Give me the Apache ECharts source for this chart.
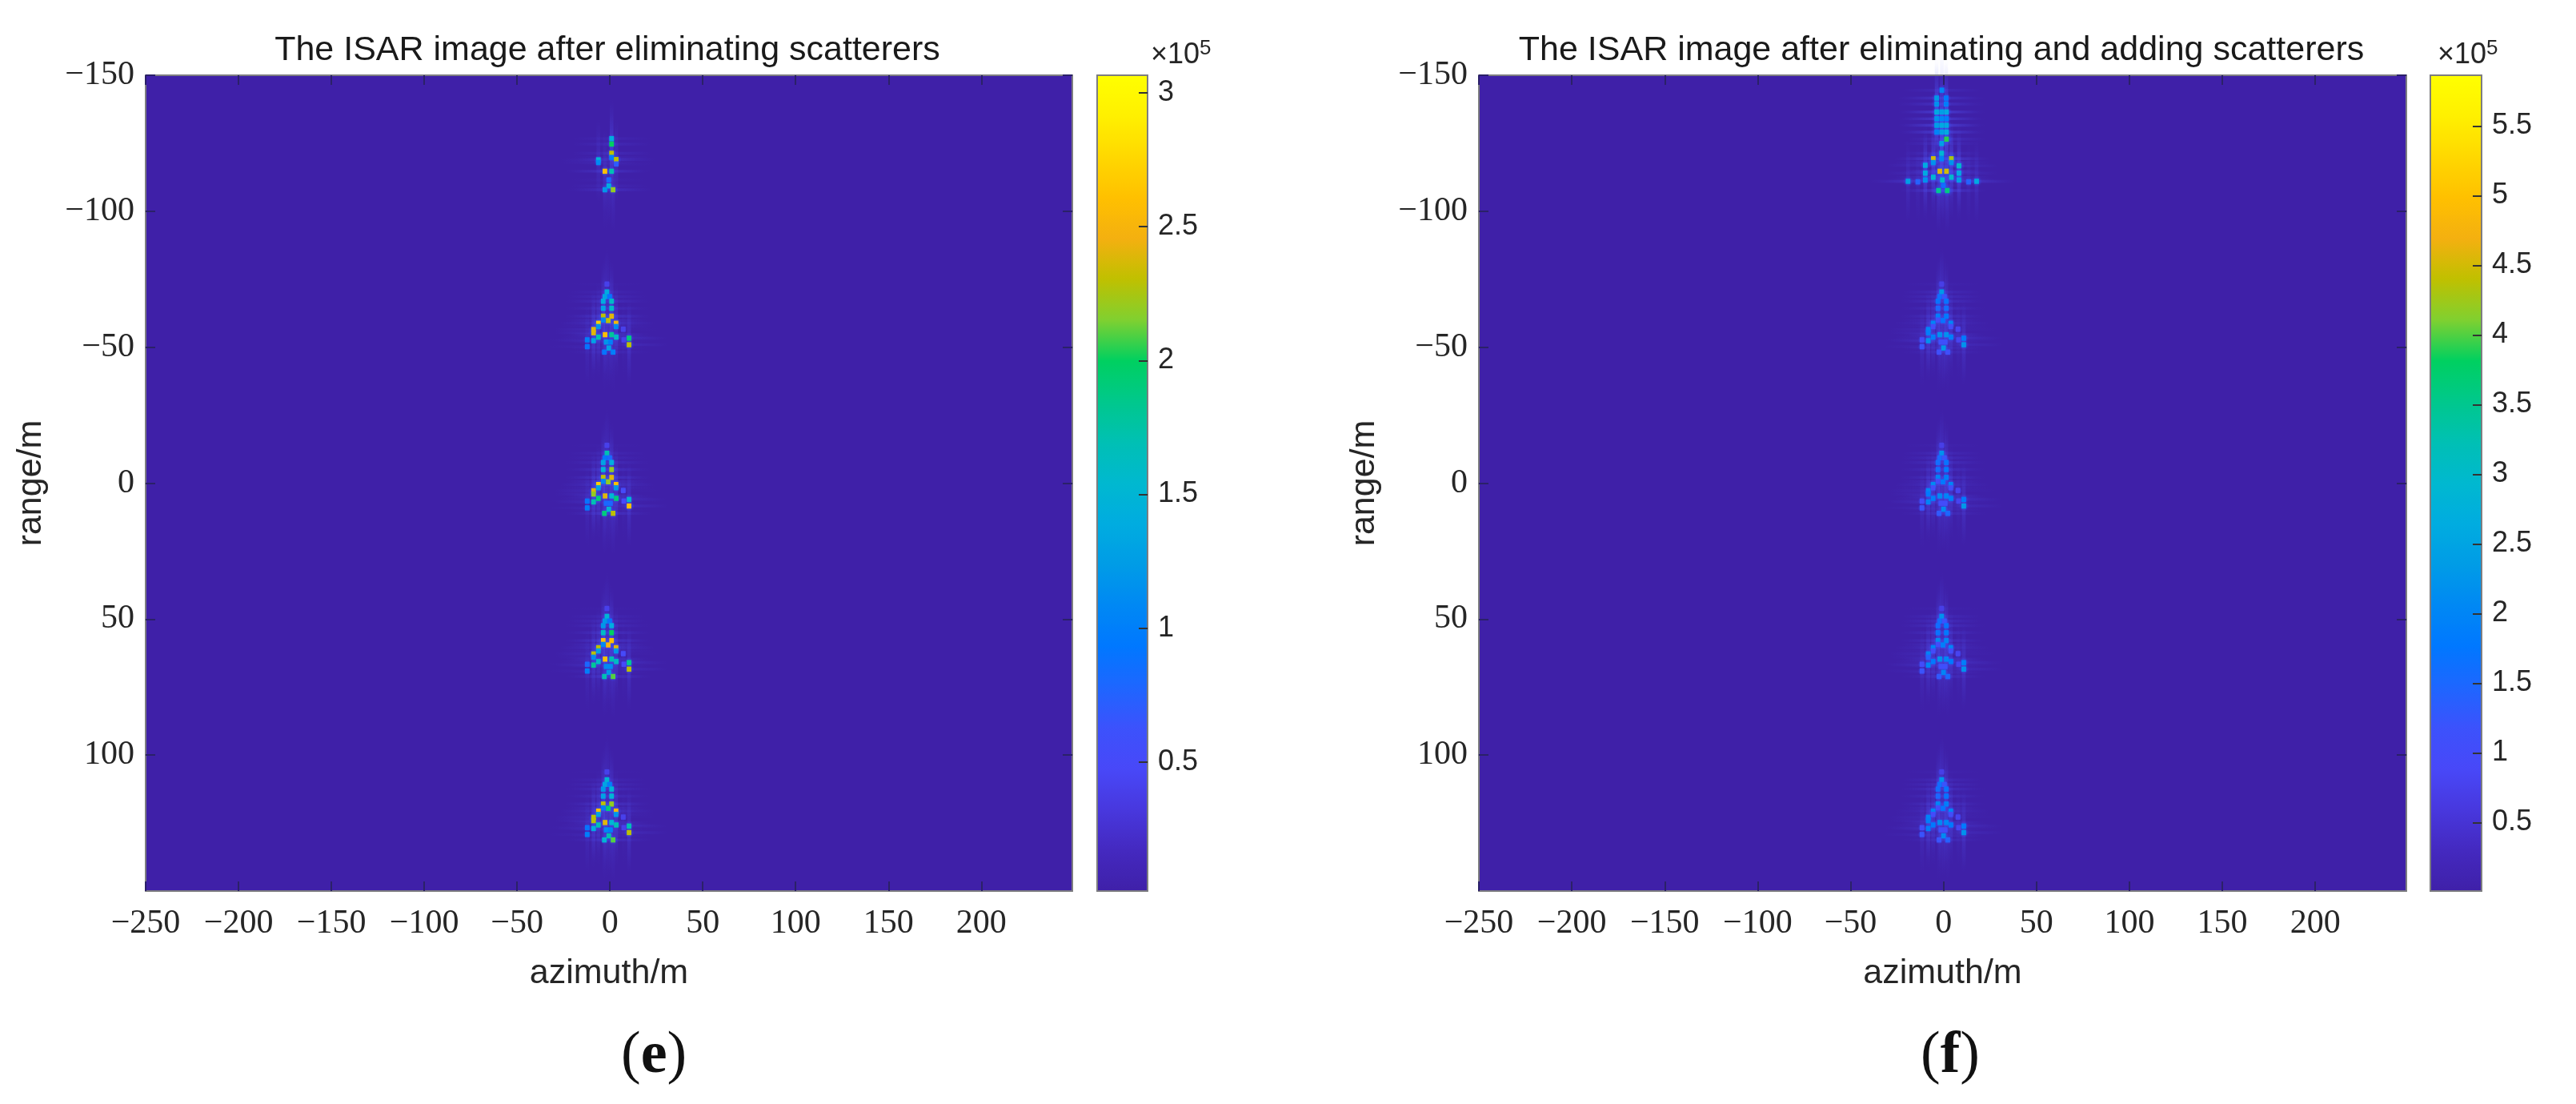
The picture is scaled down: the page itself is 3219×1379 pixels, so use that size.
<!DOCTYPE html>
<html>
<head>
<meta charset="utf-8">
<script src="https://cdn.jsdelivr.net/npm/echarts@6/dist/echarts.min.js"></script>
<style>
  html, body { margin: 0; background: #fff; }
  #chart { width: 3219px; height: 1379px; }
</style>
</head>
<body>
<div id="chart"></div>
<script>
// tick labels
const azimuthTicks = [-250, -200, -150, -100, -50, 0, 50, 100, 150, 200];
const rangeTicks = [-150, -100, -50, 0, 50, 100];
const cbarTicksE = [0.5, 1, 1.5, 2, 2.5, 3];
const cbarTicksF = [0.5, 1, 1.5, 2, 2.5, 3, 3.5, 4, 4.5, 5, 5.5];

// parula-like colormap, bottom to top
const colormap = ['#3f20a8', '#4429c0', '#4838de', '#4848f8', '#3c52fc', '#1e66ff', '#0078ff',
  '#0088f4', '#009ce6', '#00ace0', '#00b8d0', '#00c0b4', '#00c88c', '#00d060', '#80d030',
  '#c0c000', '#f4b010', '#ffc000', '#ffd800', '#fff000', '#ffff00'];

// scatterer layout of one aircraft, relative to its nose (metres)
const shapeAz = [-1.6, -2.7, -0.1, -3.6, 0.9, -3.6, 0.9, -3.6, 0.9, -3.6, -0.9, -6.2, 3.3, -6.2, 3.3, -8.8, -8.8,
  -2.6, 0.9, -6.2, 3.4, -8.8, 10.3, 10.3, -12.2, -12.2, -2.0, 0.3, -0.6, -3.0, 1.7, 7.5, 7.2, -1.6];
const shapeRange = [0, 1.7, 1.7, 3.4, 3.4, 6.0, 6.0, 8.9, 8.9, 10.3, 10.5, 11.5, 11.5, 12.7, 12.7, 13.8, 15.0,
  15.7, 15.7, 16.6, 16.6, 17.9, 17.0, 19.4, 17.6, 20.1, 18.4, 18.4, 20.6, 22.1, 22.1, 17.6, 13.7, -2.9];

// nose range of the four complete aircraft
const noseRanges = [-70.3, -11, 49, 109.1];

// amplitudes (x 1e5) per aircraft, panel (e)
const ampsE = [
  [1.4, 1.3, 0.9, 1.4, 1.6, 1.3, 1.6, 2.3, 2.4, 1.1, 2.3, 2.7, 2.5, 1.2, 1.1, 2.4, 2.4, 2.6, 1.8, 1.7, 1.6, 1.3, 1.9, 2.3, 1.0, 0.9, 1.2, 1.0, 1.3, 0.9, 1.0, 0.4, 0.4, 0.4],
  [1.7, 0.9, 0.8, 1.3, 1.4, 1.5, 2.2, 2.3, 2.4, 1.1, 2.2, 2.7, 2.6, 1.3, 1.2, 2.4, 2.2, 2.4, 1.5, 1.9, 1.9, 1.7, 1.5, 2.6, 0.9, 1.0, 0.8, 0.8, 1.5, 1.9, 2.3, 0.5, 0.5, 0.4],
  [1.5, 1.2, 0.9, 1.2, 1.4, 1.6, 2.0, 2.6, 2.6, 1.1, 2.5, 2.3, 2.4, 1.3, 1.2, 2.3, 1.1, 2.6, 1.7, 1.6, 1.6, 1.8, 1.8, 2.3, 0.8, 1.0, 1.1, 1.1, 1.2, 1.7, 2.1, 0.5, 0.5, 0.4],
  [1.5, 1.3, 1.0, 1.2, 1.5, 1.3, 1.5, 2.3, 2.2, 1.0, 1.9, 2.6, 2.5, 1.3, 1.2, 2.3, 2.3, 2.4, 1.5, 1.7, 1.7, 1.4, 1.7, 2.3, 0.9, 1.0, 1.1, 1.0, 1.7, 1.5, 2.1, 0.4, 0.4, 0.4]
];

// amplitudes (x 1e5) per aircraft, panel (f)
const ampsF = [
  [2.3, 1.6, 1.2, 1.7, 1.7, 1.5, 1.6, 1.9, 1.8, 1.0, 1.7, 2.0, 2.0, 1.0, 1.0, 2.0, 1.9, 2.2, 2.2, 1.9, 1.9, 2.2, 1.8, 2.2, 1.0, 1.2, 1.1, 1.1, 2.3, 1.1, 1.1, 0.8, 0.8, 0.7],
  [2.2, 1.5, 1.2, 1.6, 1.7, 1.6, 1.8, 2.0, 1.9, 1.0, 1.8, 2.1, 2.0, 1.0, 1.0, 2.0, 1.8, 2.1, 2.0, 1.9, 1.9, 2.0, 1.8, 2.3, 1.0, 1.2, 1.0, 1.0, 2.1, 1.3, 1.5, 0.8, 0.8, 0.7],
  [2.2, 1.6, 1.2, 1.6, 1.7, 1.7, 1.8, 2.1, 2.0, 1.0, 1.9, 2.0, 2.0, 1.0, 1.0, 2.0, 1.4, 2.2, 2.0, 1.8, 1.8, 2.0, 1.9, 2.2, 1.0, 1.2, 1.1, 1.1, 2.0, 1.3, 1.5, 0.8, 0.8, 0.7],
  [2.2, 1.6, 1.2, 1.6, 1.7, 1.5, 1.7, 2.0, 1.9, 1.0, 1.7, 2.0, 2.0, 1.0, 1.0, 2.0, 1.9, 2.1, 2.0, 1.8, 1.8, 1.9, 1.8, 2.2, 1.0, 1.2, 1.1, 1.0, 2.1, 1.2, 1.4, 0.8, 0.8, 0.7]
];
const azShiftF = 0.6;

// top aircraft, [azimuth, range, amplitude]: panel (e) lost scatterers, panel (f) gained some
const topTargetE = [[0.9, -126.7, 1.4], [0.9, -124.7, 2.0], [0.9, -121.3, 2.3], [0.9, -119.8, 1.0], [-6.2, -118.9, 1.5],
  [-6.2, -117.9, 1.1], [3.4, -119, 2.3], [3.4, -117.4, 0.7], [-2.7, -114.7, 2.6], [0.9, -114.7, 1.7], [-0.6, -111.5, 0.8],
  [-0.6, -109.3, 1.4], [-2.7, -107.9, 1.2], [1.7, -107.9, 2.2]];
const topTargetF = [[-0.9, -144.5, 2.0], [-3.7, -141.6, 2.3], [1.4, -141.6, 1.8], [-3.7, -139.4, 2.2], [1.4, -139.4, 1.9],
  [-3.7, -136.5, 2.6], [-1, -136.5, 2.4], [1.6, -136.5, 2.6], [-3.7, -134, 2.2], [-1, -134, 2.0], [1.6, -134, 1.9],
  [-3.7, -131.6, 2.4], [-1, -131.6, 2.6], [1.6, -131.6, 2.6], [-3.7, -129.1, 2.0], [-1, -129.1, 2.4], [1.6, -129.1, 2.6],
  [1.6, -126.5, 3.9], [-1, -124.9, 2.4], [-1, -121.3, 2.9], [-5.5, -119.3, 4.5], [4.2, -119.3, 4.3], [-5.5, -117.9, 2.2],
  [4.2, -117.9, 2.2], [-1, -119.3, 2.0], [-9.8, -116.9, 2.6], [8.3, -116.7, 3.0], [-9.8, -114, 2.6], [8.3, -114, 2.6],
  [-2, -114.7, 4.6], [1.6, -114.7, 4.5], [-5.5, -112.5, 2.9], [4.2, -112.5, 3.0], [-0.6, -111.5, 3.0], [-9.8, -111.5, 2.2],
  [8.3, -111.5, 2.4], [-19.1, -111, 2.4], [-13.8, -110.8, 1.4], [13.5, -110.8, 1.4], [17.8, -111, 2.6], [-2.7, -107.6, 3.5],
  [2, -107.6, 3.6], [-0.1, -109.5, 1.6]];

const buildSpots = (amps, shift, top) => {
  const spots = top.slice();
  amps.forEach((row, t) => row.forEach((a, i) => {
    spots.push([shapeAz[i] + shift, shapeRange[i] + noseRanges[t], a]);
  }));
  return spots;
};
const spotsE = buildSpots(ampsE, 0, topTargetE);
const spotsF = buildSpots(ampsF, azShiftF, topTargetF);

const SERIF = '"Liberation Serif", serif';
const SANS = '"Liberation Sans", Arial, sans-serif';
const FRAME = '#7d7d80';
const TICK = '#2b2168';
const TEXT = '#262626';

const boxes = [
  { left: 182, top: 94, width: 1158, height: 1019 },
  { left: 1848, top: 94, width: 1159, height: 1019 },
  { left: 1371, top: 94, width: 63, height: 1019 },
  { left: 3037, top: 94, width: 64, height: 1019 }
];

const minus = v => String(v).replace('-', '\u2212');

// a mark: glow and sidelobes underneath, bright cell on top
const renderLobes = (params, api) => {
  const c = api.coord([api.value(0), api.value(1)]);
  const cell = api.size([1, 1]);
  const amp = api.value(2);
  const lobeA = Math.min(0.22, amp * 0.07);
  const lw = cell[0] * 2, lh = cell[1] * 30;
  const hw = cell[0] * 42, hh = cell[1] * 1;
  const line = (vertical, alpha) => ({
    type: 'linear', x: 0, y: 0, x2: vertical ? 0 : 1, y2: vertical ? 1 : 0,
    colorStops: [
      { offset: 0, color: 'rgba(80,90,255,0)' },
      { offset: 0.5, color: 'rgba(80,90,255,' + alpha + ')' },
      { offset: 1, color: 'rgba(80,90,255,0)' }
    ]
  });
  const glowW = 4 + amp * 1.1, glowH = 5.5 + amp * 1.8;
  return {
    type: 'group',
    children: [
      { type: 'rect', shape: { x: c[0] - lw / 2, y: c[1] - lh / 2, width: lw, height: lh }, style: { fill: line(true, lobeA) } },
      { type: 'rect', shape: { x: c[0] - hw / 2, y: c[1] - hh / 2, width: hw, height: hh }, style: { fill: line(false, lobeA) } },
      {
        type: 'rect',
        shape: { x: c[0] - glowW, y: c[1] - glowH, width: glowW * 2, height: glowH * 2 },
        style: {
          fill: {
            type: 'radial', x: 0.5, y: 0.5, r: 0.5,
            colorStops: [
              { offset: 0, color: 'rgba(10,130,240,0.75)' },
              { offset: 1, color: 'rgba(60,70,255,0)' }
            ]
          }
        }
      }
    ]
  };
};
const renderCore = (params, api) => {
  const c = api.coord([api.value(0), api.value(1)]);
  const cell = api.size([1, 1]);
  const w = cell[0] * 2.5, h = cell[1] * 1.9;
  return {
    type: 'rect',
    shape: { x: c[0] - w / 2, y: c[1] - h / 2, width: w, height: h },
    style: { fill: api.visual('color') }
  };
};

// x axes bottom/top and y axes left/right for one grid
const xAxes = [], yAxes = [];
const addFrame = (g, bx, by) => {
  ['bottom', 'top'].forEach((pos, i) => {
    xAxes.push(Object.assign({
      gridIndex: g, type: 'value', position: pos, z: 5, splitLine: { show: false },
      axisLine: { show: true, onZero: false, lineStyle: { color: FRAME, width: 2 } },
      axisTick: { show: false }, axisLabel: { show: false }
    }, bx, i === 0 ? bx.bottom : bx.top, { bottom: undefined, top: undefined }));
  });
  ['left', 'right'].forEach((pos, i) => {
    yAxes.push(Object.assign({
      gridIndex: g, type: 'value', position: pos, z: 5, splitLine: { show: false },
      axisLine: { show: true, onZero: false, lineStyle: { color: FRAME, width: 2 } },
      axisTick: { show: false }, axisLabel: { show: false }
    }, by, i === 0 ? by.left : by.right, { left: undefined, right: undefined }));
  });
};

const innerTick = (len, values) => ({
  show: true, inside: true, length: len, customValues: values,
  lineStyle: { color: TICK, width: 2 }
});

[0, 1].forEach(g => {
  addFrame(g, {
    min: -250, max: 249,
    bottom: {
      axisTick: innerTick(12, azimuthTicks),
      axisLabel: {
        show: true, margin: 20, customValues: azimuthTicks, formatter: minus,
        fontFamily: SERIF, fontSize: 42, color: TEXT
      },
      name: 'azimuth/m', nameLocation: 'middle', nameGap: 82,
      nameTextStyle: { fontFamily: SANS, fontSize: 43, color: TEXT }
    },
    top: { axisTick: innerTick(12, azimuthTicks) }
  }, {
    min: -150, max: 150, inverse: true,
    left: {
      axisTick: innerTick(12, rangeTicks),
      axisLabel: {
        show: true, margin: 14, customValues: rangeTicks, formatter: minus,
        fontFamily: SERIF, fontSize: 42, color: TEXT
      },
      name: 'range/m', nameLocation: 'middle', nameGap: 121,
      nameTextStyle: { fontFamily: SANS, fontSize: 43, color: TEXT }
    },
    right: { axisTick: innerTick(12, rangeTicks) }
  });
});

[[2, 0.018, 3.066, cbarTicksE], [3, 0.008, 5.865, cbarTicksF]].forEach(([g, lo, hi, ticks]) => {
  addFrame(g, { min: 0, max: 1, bottom: {}, top: {} }, {
    min: lo, max: hi,
    left: {},
    right: {
      axisTick: Object.assign(innerTick(11, ticks), { lineStyle: { color: '#333', width: 2 } }),
      axisLabel: {
        show: true, margin: 13, customValues: ticks,
        fontFamily: SANS, fontSize: 36, color: TEXT
      }
    }
  });
});

const spotSeries = (g, spots) => {
  const xi = g * 2, yi = g * 2;
  return [
    { type: 'custom', xAxisIndex: xi, yAxisIndex: yi, renderItem: renderLobes, data: spots, encode: { x: 0, y: 1 }, silent: true, z: 2 },
    { type: 'custom', xAxisIndex: xi, yAxisIndex: yi, renderItem: renderCore, data: spots, encode: { x: 0, y: 1 }, silent: true, z: 3 }
  ];
};

const colorbar = (box, lo, hi, seriesIndex) => ({
  type: 'continuous', show: true, min: lo, max: hi, dimension: 2, seriesIndex,
  left: box.left, top: box.top, itemWidth: box.width, itemHeight: box.height,
  padding: 0, calculable: false, hoverLink: false, z: 1,
  inRange: { color: colormap }
});

const titleAt = (text, cx) => ({
  text, left: cx, top: 37, textAlign: 'center',
  textStyle: { fontFamily: SANS, fontSize: 43, fontWeight: 'normal', color: '#1a1a1a' }
});

const expLabel = x => ({
  type: 'text', left: x, top: 48,
  style: {
    text: '\u00d710{e|5}', fontFamily: SANS, fontSize: 36, fill: TEXT,
    rich: { e: { fontSize: 26, verticalAlign: 'top', fontFamily: SANS, fill: TEXT, padding: [0, 0, 16, 0] } }
  }
});
const panelLabel = (letter, x) => ({
  type: 'text', left: x, top: 1283,
  style: {
    text: '({b|' + letter + '})', fontFamily: SERIF, fontSize: 74, fill: '#111',
    rich: { b: { fontFamily: SERIF, fontSize: 74, fontWeight: 'bold', fill: '#111' } }
  }
});

const chart = echarts.init(document.getElementById('chart'));
chart.setOption({
  animation: false,
  backgroundColor: '#fff',
  title: [
    titleAt('The ISAR image after eliminating scatterers', 754),
    titleAt('The ISAR image after eliminating and adding scatterers', 2421)
  ],
  grid: [
    Object.assign({ show: true, backgroundColor: colormap[0], borderWidth: 0 }, boxes[0]),
    Object.assign({ show: true, backgroundColor: colormap[0], borderWidth: 0 }, boxes[1]),
    Object.assign({ show: false }, boxes[2]),
    Object.assign({ show: false }, boxes[3])
  ],
  xAxis: xAxes,
  yAxis: yAxes,
  visualMap: [
    colorbar(boxes[2], 0.018, 3.066, [0, 1]),
    colorbar(boxes[3], 0.008, 5.865, [2, 3])
  ],
  series: spotSeries(0, spotsE).concat(spotSeries(1, spotsF)),
  graphic: [expLabel(1438), expLabel(3046), panelLabel('e', 776), panelLabel('f', 2400)]
});
</script>
</body>
</html>
